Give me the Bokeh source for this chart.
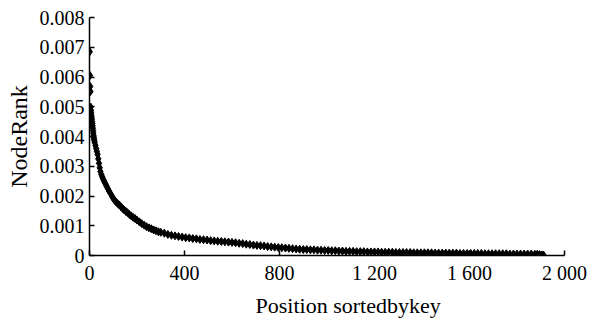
from bokeh.plotting import figure
from bokeh.models import Range1d, FixedTicker, Title
from bokeh.embed import file_html
from bokeh.resources import INLINE

# Position (rank) and NodeRank values
positions = [1, 2, 3, 4, 5, 6, 7, 8, 9, 10, 11, 12, 13, 14, 15, 16, 17, 18, 19, 20,
             22, 25, 28, 31, 34, 37, 40, 43, 46, 50, 54, 58, 62, 67, 72, 77, 82, 88, 94,
             100, 106, 112, 118, 125, 132, 139, 146, 153, 160, 168, 176, 184, 192, 200,
             210, 220, 230, 240, 250, 260, 270, 280, 290, 300, 315, 330, 345, 360, 375,
             390, 405, 420, 435, 450, 465, 480, 495, 510, 525, 540, 555, 570, 585, 600,
             615, 630, 645, 660, 675, 690, 705, 720, 735, 750, 765, 780, 795, 810, 825,
             840, 855, 870, 885, 900, 915, 930, 945, 960, 975, 990, 1005, 1020, 1035,
             1050, 1065, 1080, 1095, 1110, 1125, 1140, 1155, 1170, 1185, 1200, 1215,
             1230, 1245, 1260, 1275, 1290, 1305, 1320, 1335, 1350, 1365, 1380, 1395,
             1410, 1425, 1440, 1455, 1470, 1485, 1500, 1515, 1530, 1545, 1560, 1575,
             1590, 1605, 1620, 1635, 1650, 1665, 1680, 1695, 1710, 1725, 1740, 1755,
             1770, 1785, 1800, 1815, 1830, 1845, 1860, 1875, 1885, 1895, 1905, 1912]

node_rank = [0.00685, 0.00605, 0.00568, 0.00551, 0.00499, 0.00488, 0.00480, 0.00472,
             0.00465, 0.00458, 0.00450, 0.00443, 0.00436, 0.00428, 0.00420, 0.00412,
             0.00404, 0.00398, 0.00392, 0.00387,
             0.00380, 0.00370, 0.00360, 0.00350, 0.00340, 0.00325, 0.00310, 0.00295,
             0.00282, 0.00272, 0.00264, 0.00256, 0.00249, 0.00241, 0.00233, 0.00225,
             0.00217, 0.00209, 0.00200,
             0.00192, 0.00185, 0.00180, 0.00175, 0.00170, 0.00164, 0.00158, 0.00153,
             0.00148, 0.00144, 0.00138, 0.00133, 0.00128, 0.00124, 0.00119,
             0.00113, 0.00107, 0.00102, 0.00097, 0.00093, 0.00090, 0.00086, 0.00083,
             0.00080, 0.00078, 0.00075, 0.00071, 0.00068, 0.00066, 0.00064,
             0.00062, 0.00060, 0.00059, 0.00057, 0.00056, 0.00054, 0.00053, 0.00052,
             0.00050, 0.00049, 0.00048, 0.00047, 0.00046, 0.00045, 0.00044,
             0.00043, 0.00041, 0.00040, 0.00038, 0.00037, 0.00035, 0.00034, 0.00033,
             0.00032, 0.00030, 0.00029, 0.00028, 0.00027, 0.00026, 0.00025,
             0.00024, 0.00023, 0.00022, 0.00021, 0.00020, 0.00020, 0.00019, 0.00019,
             0.00018, 0.00018, 0.00017, 0.00017, 0.00016, 0.00016,
             0.00015, 0.00015, 0.00014, 0.00014, 0.00014, 0.00013, 0.00013, 0.00013,
             0.00012, 0.00012, 0.00012, 0.00012,
             0.00011, 0.00011, 0.00011, 0.00011, 0.00010, 0.00010, 0.00010, 0.00010,
             0.00010, 0.00009, 0.00009, 0.00009,
             0.00009, 0.00009, 0.00009, 0.00008, 0.00008, 0.00008, 0.00008, 0.00008,
             0.00008, 0.00008, 0.00007, 0.00007,
             0.00007, 0.00007, 0.00007, 0.00007, 0.00007, 0.00006, 0.00006, 0.00006,
             0.00006, 0.00006, 0.00006, 0.00006,
             0.00005, 0.00005, 0.00005, 0.00005, 0.00005, 0.00005, 0.00005, 0.00004,
             0.00004, 0.00003, 0.00002, 0.00001]

x_ticks = [0, 400, 800, 1200, 1600, 2000]
x_tick_labels = ["0", "400", "800", "1 200", "1 600", "2 000"]
y_ticks = [0, 0.001, 0.002, 0.003, 0.004, 0.005, 0.006, 0.007, 0.008]
y_tick_labels = ["0", "0.001", "0.002", "0.003", "0.004", "0.005", "0.006", "0.007", "0.008"]
x_title = "Position sortedbykey"
y_title = "NodeRank"

FONT = "Liberation Serif"

p = figure(width=591, height=321, output_backend="svg", toolbar_location=None,
           x_range=Range1d(0, 2000), y_range=Range1d(0, 0.008),
           min_border_left=89, min_border_right=27, min_border_top=17, min_border_bottom=66)
p.outline_line_color = None
p.grid.grid_line_color = None
p.background_fill_color = "white"
p.border_fill_color = "white"

p.scatter(positions, node_rank, marker="diamond", size=8, color="black", line_width=1)

for ax in (p.xaxis[0], p.yaxis[0]):
    ax.axis_line_color = "black"
    ax.axis_line_width = 1.5
    ax.major_tick_line_color = "black"
    ax.major_tick_line_width = 1.5
    ax.major_tick_in = 5
    ax.major_tick_out = 0
    ax.minor_tick_line_color = None
    ax.major_label_text_font = FONT
    ax.major_label_text_font_size = "20px"
    ax.major_label_text_color = "black"
    ax.axis_label_text_font = FONT
    ax.axis_label_text_font_size = "24px"
    ax.axis_label_text_font_style = "normal"
    ax.axis_label_text_color = "black"

p.xaxis.ticker = FixedTicker(ticks=x_ticks)
p.xaxis.major_label_overrides = dict(zip(x_ticks, x_tick_labels))
p.xaxis.major_label_standoff = 6
p.yaxis.ticker = FixedTicker(ticks=y_ticks)
p.yaxis.major_label_overrides = dict(zip(y_ticks, y_tick_labels))
p.yaxis.major_label_standoff = 5
p.yaxis.axis_label = y_title
p.yaxis.axis_label_standoff = 5

p.add_layout(Title(text=x_title, align="left", offset=166, standoff=8,
                   text_font=FONT, text_font_size="22px", text_font_style="normal",
                   text_color="black"), "below")

open("out.html", "w").write(file_html(p, INLINE))
